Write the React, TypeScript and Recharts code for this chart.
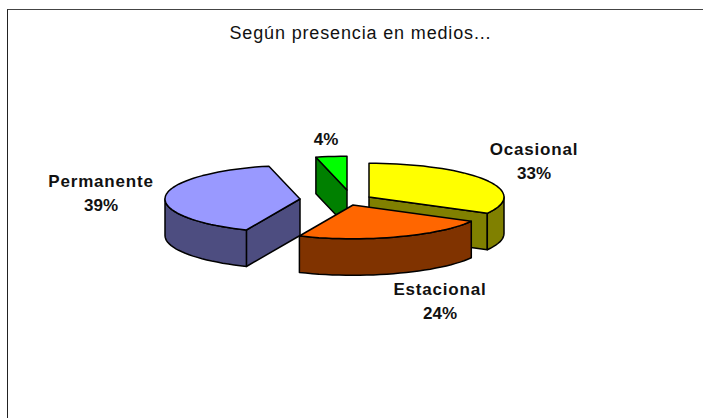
import { PieChart, Pie } from "recharts";

// drawing order follows the data, so the slice at the back comes first
const categories = ["", "Ocasional", "Estacional", "Permanente"];
const values = [3.7, 33, 23.5, 39.8];
const percentLabels = ["4%", "33%", "24%", "39%"];

const topColors = ["#00FF00", "#FFFF00", "#FF6600", "#9999FF"];
const sideColors = ["#008000", "#808000", "#803300", "#4D4D80"];

// how far each slice is pulled out of the pie, in pixels
const explodeX = [10, 32, 16, -37];
const explodeY = [-11, -4, 4, -2];

const labelX = [326, 534, 440, 101];
const labelY = [139, 149, 289, 181];

const TILT = 0.25;
const DEPTH = 36.5;
const FONT = "'Liberation Sans', Arial, sans-serif";

const data = categories.map((name, i) => ({ name, value: values[i], label: percentLabels[i] }));

type Pt = [number, number];

const toPath = (pts: Pt[]) =>
  "M" + pts.map((p) => `${p[0].toFixed(1)},${p[1].toFixed(1)}`).join("L") + "Z";

function Slice3D(props: any) {
  const { cx, cy, outerRadius, startAngle, endAngle, index } = props;
  const ax = cx + explodeX[index];
  const ay = cy + explodeY[index];
  const at = (deg: number): Pt => {
    const a = (deg * Math.PI) / 180;
    return [ax + outerRadius * Math.cos(a), ay - outerRadius * TILT * Math.sin(a)];
  };
  const arc = (from: number, to: number): Pt[] => {
    const n = Math.max(1, Math.ceil(Math.abs(from - to) / 3));
    const pts: Pt[] = [];
    for (let i = 0; i <= n; i++) pts.push(at(from + ((to - from) * i) / n));
    return pts;
  };
  const down = (pts: Pt[]): Pt[] => pts.map((p) => [p[0], p[1] + DEPTH] as Pt).reverse();

  const apex: Pt = [ax, ay];
  const mid = at((startAngle + endAngle) / 2);
  const cuts = [at(startAngle), at(endAngle)].filter((p) => {
    // a cut face shows only when the slice lies above its top edge on screen
    if (Math.abs(p[0] - ax) < 1) return false;
    const yOnEdge = ay + ((p[1] - ay) * (mid[0] - ax)) / (p[0] - ax);
    return yOnEdge > mid[1];
  });

  // the rim faces the viewer only on the lower half of the ellipse
  const lo = Math.max(endAngle, -180);
  const hi = Math.min(startAngle, 0);
  const rim = lo < hi ? arc(hi, lo) : null;

  const line = { stroke: "#000", strokeWidth: 1.5, strokeLinejoin: "round" as const };
  return (
    <g>
      {cuts.map((p, i) => {
        const edge: Pt[] = [apex, p];
        return <path key={i} d={toPath([...edge, ...down(edge)])} fill={sideColors[index]} {...line} />;
      })}
      {rim && <path d={toPath([...rim, ...down(rim)])} fill={sideColors[index]} {...line} />}
      <path d={toPath([apex, ...arc(startAngle, endAngle)])} fill={topColors[index]} {...line} />
    </g>
  );
}

function SliceLabel(props: any) {
  const { index, name, payload } = props;
  const x = labelX[index];
  const y = labelY[index];
  const style = { fontFamily: FONT, fontSize: 17, fontWeight: 700 };
  return (
    <g fill="#111" textAnchor="middle" style={style}>
      {name ? (
        <text x={x} y={y} dominantBaseline="central" letterSpacing={0.8}>
          {name}
        </text>
      ) : null}
      <text x={x} y={name ? y + 24 : y} dominantBaseline="central">
        {payload.label}
      </text>
    </g>
  );
}

export default function App() {
  return (
    <div style={{ position: "absolute", left: 0, top: 0, width: 703, height: 418, overflow: "hidden", background: "#fff" }}>
      <div
        style={{
          position: "absolute",
          left: 7,
          top: 9,
          width: 696,
          height: 409,
          boxSizing: "border-box",
          borderLeft: "1px solid #222",
          borderTop: "1px solid #444",
        }}
      />
      <PieChart width={703} height={418} margin={{ top: 0, right: 0, bottom: 0, left: 0 }}>
        <text
          x={360.5}
          y={33}
          textAnchor="middle"
          dominantBaseline="central"
          fill="#111"
          style={{ fontFamily: FONT, fontSize: 18, letterSpacing: 0.85 }}
        >
          Según presencia en medios...
        </text>
        <Pie
          data={data}
          dataKey="value"
          nameKey="name"
          cx={337}
          cy={201}
          outerRadius={135}
          startAngle={103.32}
          endAngle={-256.68}
          shape={Slice3D}
          label={SliceLabel}
          labelLine={false}
          isAnimationActive={false}
        />
      </PieChart>
    </div>
  );
}
